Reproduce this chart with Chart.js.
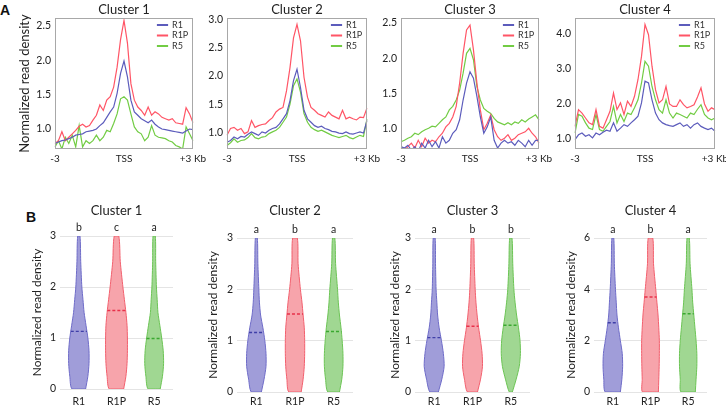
<!DOCTYPE html>
<html>
<head>
<meta charset="utf-8">
<script src="https://cdn.jsdelivr.net/npm/chart.js@4.4.1/dist/chart.umd.min.js"></script>
<style>
  body { margin: 0; background: #fff; }
  #wrap { position: relative; width: 726px; height: 407px; overflow: hidden; background: #fff; }
  #wrap canvas { position: absolute; }
  .tag { position: absolute; font: bold 14px Arial, sans-serif; line-height: 1; color: #111; }
</style>
</head>
<body>
<div id="wrap">
  <div class="tag" style="left:0px;top:3px">A</div>
  <div class="tag" style="left:26px;top:210px">B</div>
  <canvas id="a1" width="209" height="170" style="left:0px;top:0px"></canvas>
  <canvas id="a2" width="183" height="170" style="left:200px;top:0px"></canvas>
  <canvas id="a3" width="181" height="170" style="left:374px;top:0px"></canvas>
  <canvas id="a4" width="178" height="170" style="left:548px;top:0px"></canvas>
  <canvas id="b1" width="157" height="207" style="left:20px;top:200px"></canvas>
  <canvas id="b2" width="161" height="207" style="left:196px;top:200px"></canvas>
  <canvas id="b3" width="156" height="207" style="left:378px;top:200px"></canvas>
  <canvas id="b4" width="157" height="207" style="left:554px;top:200px"></canvas>
</div>
<script>
// ---- shared ----
const seriesNames = ['R1', 'R1P', 'R5'];
const bins = Array.from({ length: 41 }, (_, i) => i);   // -3 kb .. +3 kb, TSS at 20
const xTickLabels = { 0: '-3', 20: 'TSS', 40: '+3 Kb' };

// ---- A: read density profiles ----
const c1R1  = [0.79,0.81,0.83,0.84,0.86,0.88,0.91,0.92,0.93,0.96, 0.97,0.98,1.0,1.05,1.09,1.17,1.25,1.32,1.52,1.81, 1.99, 1.76,1.42,1.25,1.2,1.15,1.12,1.09,1.13,1.07,1.03, 1.0,0.99,0.98,0.97,0.96,0.95,0.94,0.97,1.0,0.99];
const c1R1P = [0.79,0.83,0.96,0.83,0.88,0.93,0.98,1.04,1.07,1.03, 1.05,1.13,1.2,1.35,1.27,1.42,1.47,1.61,1.9,2.3, 2.58, 2.25,1.66,1.42,1.32,1.27,1.2,1.32,1.2,1.25,1.22, 1.17,1.15,1.13,1.15,1.09,1.08,1.07,1.31,1.22,1.09];
const c1R5  = [0.74,0.83,0.71,0.88,0.79,0.91,0.74,1.05,0.74,0.83, 0.79,0.83,0.91,0.83,0.88,0.98,0.96,1.08,1.22,1.44, 1.47, 1.42,1.22,1.03,0.96,0.93,0.83,0.88,1.05,0.91,0.88, 0.87,0.86,0.83,0.81,0.76,0.74,0.71,1.03,0.93,0.83];

const c2R1  = [0.84,0.87,0.93,0.9,0.94,0.93,0.98,1.02,0.99,0.96, 1.02,1.0,1.05,1.08,1.1,1.16,1.25,1.34,1.57,1.92, 2.12, 1.8,1.4,1.25,1.19,1.13,1.1,1.12,1.08,1.06,1.03, 1.02,1.0,0.99,1.02,0.99,0.98,1.0,1.02,1.0,1.22];
const c2R1P = [0.96,1.08,1.1,1.05,1.08,0.99,1.02,1.22,1.1,1.13, 1.15,1.16,1.22,1.27,1.37,1.42,1.45,1.74,2.15,2.67, 2.91, 2.62,1.98,1.63,1.45,1.4,1.34,1.31,1.28,1.37,1.31, 1.28,1.25,1.4,1.25,1.28,1.25,1.23,1.28,1.27,1.44];
const c2R5  = [0.78,0.83,0.9,0.84,0.87,0.88,0.92,0.99,0.92,0.9, 0.93,0.94,0.99,1.02,1.05,1.1,1.19,1.28,1.51,1.83, 1.95, 1.72,1.34,1.19,1.1,1.06,1.03,1.05,1.02,0.99,0.96, 0.94,0.92,0.94,0.96,0.92,0.9,0.93,0.96,0.94,1.25];

const c3R1  = [0.75,0.73,0.77,0.7,0.75,0.68,0.8,0.73,0.84,0.75, 0.82,0.73,0.89,0.8,0.84,0.94,0.99,1.13,1.41,1.65, 1.81, 1.72,1.46,1.17,0.94,1.03,1.17,0.84,0.73,0.8, 0.84,0.8,0.82,0.77,0.84,0.8,0.75,0.84,0.77,0.84,0.84];
const c3R1P = [0.73,0.7,0.75,0.8,0.73,0.84,0.75,0.87,0.8,0.84, 0.82,0.89,0.94,1.03,1.08,1.17,1.32,1.65,2.07,2.4, 2.47, 2.12,1.65,1.27,0.99,1.08,1.2,0.99,0.89,0.84, 0.87,0.92,0.84,0.87,0.92,0.94,0.96,1.01,0.94,0.89,0.8];
const c3R5  = [0.82,0.84,0.87,0.89,0.94,0.92,0.96,0.99,1.01,1.04, 1.03,1.08,1.13,1.17,1.27,1.32,1.41,1.55,1.79,2.07, 2.14, 1.98,1.6,1.41,1.29,1.25,1.22,1.15,1.1,1.08, 1.06,1.09,1.06,1.1,1.08,1.13,1.1,1.14,1.17,1.2,1.13];

const c4R1  = [0.98,1.12,1.17,1.08,1.12,1.03,1.17,1.12,1.19,1.25, 1.22,1.46,1.22,1.31,1.41,1.36,1.46,1.55,1.65,2.03, 2.65, 2.6,2.12,1.74,1.55,1.46,1.41,1.38,1.36,1.41, 1.46,1.36,1.41,1.31,1.41,1.46,1.36,1.31,1.27,1.31,1.22];
const c4R1P = [1.36,1.84,1.74,1.6,1.46,1.41,1.84,1.36,1.31,1.55, 1.79,2.31,1.84,2.03,1.7,2.08,1.93,2.22,2.7,3.36, 4.27, 3.98,3.08,2.41,2.03,2.12,2.5,2.0,1.93,1.93, 2.12,1.98,1.89,1.93,1.98,2.2,2.46,2.0,1.79,1.89,1.84];
const c4R5  = [1.17,1.7,1.65,1.46,1.31,1.27,1.7,1.27,1.22,1.36, 1.5,1.93,1.46,1.7,1.5,1.74,1.7,1.89,2.12,2.6, 3.22, 3.08,2.5,2.12,1.84,1.74,2.12,1.74,1.6,1.74, 1.7,1.65,1.6,1.74,1.7,1.85,1.98,1.7,1.6,1.55,1.6];

const yTicksA1 = [1.0, 1.5, 2.0, 2.5];
const yTicksA2 = [1.0, 1.5, 2.0, 2.5, 3.0];
const yTicksA3 = [1.0, 1.5, 2.0, 2.5];
const yTicksA4 = [1.0, 2.0, 3.0, 4.0];

// ---- B: violins (half-width in category units at each level) ----
const levels3 = [0, 0.25, 0.5, 0.75, 1, 1.25, 1.5, 1.75, 2, 2.5, 3];
const levels6 = [0, 0.5, 1, 1.5, 2, 2.5, 3, 3.5, 4, 5, 6];

const v1R1  = [0.18,0.24,0.27,0.27,0.24,0.19,0.14,0.11,0.08,0.05,0.03];
const v1R1P = [0.19,0.25,0.28,0.29,0.29,0.28,0.25,0.21,0.17,0.10,0.06];
const v1R5  = [0.16,0.22,0.25,0.24,0.20,0.15,0.10,0.08,0.06,0.04,0.03];
const v2R1  = [0.13,0.20,0.25,0.25,0.22,0.17,0.11,0.08,0.065,0.04,0.025];
const v2R1P = [0.16,0.21,0.24,0.25,0.25,0.24,0.21,0.18,0.14,0.08,0.06];
const v2R5  = [0.15,0.21,0.24,0.24,0.22,0.19,0.15,0.12,0.10,0.05,0.03];
const v3R1  = [0.11,0.20,0.26,0.24,0.19,0.13,0.09,0.07,0.05,0.035,0.025];
const v3R1P = [0.13,0.21,0.26,0.25,0.21,0.16,0.12,0.09,0.07,0.045,0.03];
const v3R5  = [0.04,0.14,0.22,0.25,0.24,0.20,0.15,0.11,0.08,0.05,0.03];
const v4R1  = [0.20,0.24,0.26,0.25,0.20,0.15,0.11,0.09,0.07,0.04,0.025];
const v4R1P = [0.21,0.22,0.23,0.235,0.235,0.22,0.20,0.17,0.14,0.08,0.06];
const v4R5  = [0.19,0.21,0.23,0.23,0.21,0.18,0.15,0.12,0.10,0.05,0.03];

const med1 = [1.13, 1.54, 0.99];
const med2 = [1.16, 1.52, 1.18];
const med3 = [1.06, 1.28, 1.30];
const med4 = [2.70, 3.70, 3.05];

const letters1 = ['b', 'c', 'a'];
const letters2 = ['a', 'b', 'a'];
const letters3 = ['a', 'b', 'b'];
const letters4 = ['a', 'b', 'a'];

const yTicksB3 = [0, 1, 2, 3];
const yTicksB6 = [0, 2, 4, 6];

// ---- colours ----
const lineColors   = ['#5c5cbc', '#ff5566', '#72cc44'];
const violinFill   = ['#a09dd9', '#f7a4ab', '#a0d792'];
const violinEdge   = ['#6f6cc8', '#f2606e', '#6cc455'];
const medianColors = ['#3f3fa8', '#e8304a', '#3aa830'];

const FONT = 'Lato, "Open Sans", sans-serif';

// plot frame for the profile panels
const framePlugin = {
    id: 'frame',
    afterDraw(chart) {
        const { ctx, chartArea: a } = chart;
        ctx.save();
        ctx.strokeStyle = '#a8a8a8';
        ctx.lineWidth = 1;
        ctx.strokeRect(a.left + 0.5, a.top + 0.5, a.right - a.left - 1, a.bottom - a.top - 1);
        ctx.restore();
    }
};

// push the chartArea legend to the top right corner
const legendCorner = {
    id: 'legendCorner',
    afterLayout(chart) {
        const lg = chart.legend;
        if (!lg) return;
        const a = chart.chartArea;
        const w = lg.width, h = lg.height;
        lg.left = a.right - 37;
        lg.right = lg.left + w;
        lg.top = a.top + 1;
        lg.bottom = lg.top + h;
    }
};

function profileChart(id, title, series, yMin, yMax, yTicks, yAxisW, padRight, showYTitle) {
    new Chart(document.getElementById(id), {
        type: 'line',
        data: {
            labels: bins,
            datasets: seriesNames.map((name, k) => ({
                label: name,
                data: series[k],
                borderColor: lineColors[k],
                backgroundColor: lineColors[k],
                borderWidth: 1.2,
                pointRadius: 0,
                tension: 0,
                fill: false
            }))
        },
        options: {
            responsive: false,
            animation: false,
            events: [],
            layout: { padding: { left: 0, right: padRight, top: 0, bottom: 0 } },
            plugins: {
                title: {
                    display: true, text: title, fullSize: false, color: '#222',
                    font: { family: FONT, size: 13, weight: 'normal' },
                    padding: { top: 2, bottom: 0.4 }
                },
                legend: {
                    position: 'chartArea', align: 'start',
                    labels: { boxWidth: 10, boxHeight: 1, padding: 1.5, color: '#333', font: { family: FONT, size: 9 } }
                },
                tooltip: { enabled: false }
            },
            scales: {
                x: {
                    grid: { display: false, drawTicks: false },
                    border: { display: false },
                    ticks: {
                        autoSkip: false, maxRotation: 0, padding: 4, color: '#222',
                        font: { family: FONT, size: 10 },
                        callback: (v, i) => xTickLabels[i] ?? ''
                    },
                    afterFit: s => { s.height = 21; s.paddingLeft = 0; s.paddingRight = 0; }
                },
                y: {
                    min: yMin, max: yMax,
                    grid: { display: false, drawTicks: false },
                    border: { display: false },
                    afterBuildTicks: s => { s.ticks = yTicks.map(v => ({ value: v })); },
                    ticks: { padding: 4, color: '#222', font: { family: FONT, size: 10.5 }, callback: v => v.toFixed(1) },
                    title: {
                        display: showYTitle, text: 'Normalized read density', color: '#222',
                        font: { family: FONT, size: 13 }, padding: { top: 17, bottom: 0 }
                    },
                    afterFit: s => { s.width = yAxisW; s.paddingTop = 0; s.paddingBottom = 0; }
                }
            }
        },
        plugins: [framePlugin, legendCorner]
    });
}

function halfWidthAt(levels, w, y) {
    for (let j = 1; j < levels.length; j++) {
        if (y <= levels[j]) {
            const t = (y - levels[j - 1]) / (levels[j] - levels[j - 1]);
            return w[j - 1] + t * (w[j] - w[j - 1]);
        }
    }
    return w[w.length - 1];
}

function violinChart(id, title, levels, widths, medians, letters, yMax, yTicks, yAxisW, topH, bottomH, xPad) {
    const datasets = [];
    seriesNames.forEach((name, k) => {
        const w = widths[k];
        const right = levels.map((y, j) => ({ x: k + w[j], y }));
        const left = levels.map((y, j) => ({ x: k - w[j], y })).reverse();
        const outline = right.concat(left, [right[0]]);
        datasets.push({
            label: name, data: outline, order: 2,
            borderColor: violinEdge[k], backgroundColor: violinFill[k],
            borderWidth: 1, pointRadius: 0, tension: 0.25, fill: 'shape'
        });
        // dashed median line, drawn over the violins
        const mw = halfWidthAt(levels, w, medians[k]);
        datasets.push({
            label: name + ' median', order: 1,
            data: [{ x: k - mw, y: medians[k] }, { x: k + mw, y: medians[k] }],
            borderColor: medianColors[k], borderWidth: 1.4, borderDash: [3, 2],
            pointRadius: 0, fill: false
        });
    });

    new Chart(document.getElementById(id), {
        type: 'line',
        data: { datasets },
        options: {
            responsive: false,
            animation: false,
            events: [],
            layout: { padding: { left: 0, right: 4, top: 0, bottom: 0 } },
            plugins: {
                title: {
                    display: true, text: title, fullSize: false, color: '#222',
                    font: { family: FONT, size: 13, weight: 'normal' },
                    padding: { top: 3, bottom: 4 }
                },
                legend: { display: false },
                tooltip: { enabled: false }
            },
            scales: {
                x: {
                    type: 'linear', min: -0.5, max: 2.5,
                    grid: { display: false, drawTicks: false },
                    border: { display: false },
                    afterBuildTicks: s => { s.ticks = seriesNames.map((_, k) => ({ value: k })); },
                    ticks: { padding: xPad, color: '#222', font: { family: FONT, size: 10.5 }, callback: v => seriesNames[v] },
                    afterFit: s => { s.height = bottomH; s.paddingLeft = 0; s.paddingRight = 0; }
                },
                x2: {
                    type: 'linear', position: 'top', min: -0.5, max: 2.5,
                    grid: { display: false, drawTicks: false },
                    border: { display: false },
                    afterBuildTicks: s => { s.ticks = letters.map((_, k) => ({ value: k })); },
                    ticks: { padding: 2, color: '#222', font: { family: FONT, size: 10.5 }, callback: v => letters[v] },
                    afterFit: s => { s.height = topH; s.paddingLeft = 0; s.paddingRight = 0; }
                },
                y: {
                    min: 0, max: yMax,
                    grid: { color: '#e4e4e4', drawTicks: false },
                    border: { display: false },
                    afterBuildTicks: s => { s.ticks = yTicks.map(v => ({ value: v })); },
                    ticks: { padding: 4, color: '#222', font: { family: FONT, size: 10.5 }, callback: v => String(v) },
                    title: {
                        display: true, text: 'Normalized read density', color: '#222',
                        font: { family: FONT, size: 12 }, padding: { top: 10, bottom: 0 }
                    },
                    afterFit: s => { s.width = yAxisW; s.paddingTop = 0; s.paddingBottom = 0; }
                }
            }
        }
    });
}

function drawAll() {
    profileChart('a1', 'Cluster 1', [c1R1, c1R1P, c1R5], 0.709, 2.616, yTicksA1, 55, 16, true);
    profileChart('a2', 'Cluster 2', [c2R1, c2R1P, c2R5], 0.72, 3.02, yTicksA2, 27, 16, false);
    profileChart('a3', 'Cluster 3', [c3R1, c3R1P, c3R5], 0.717, 2.57, yTicksA3, 27, 16, false);
    profileChart('a4', 'Cluster 4', [c4R1, c4R1P, c4R5], 0.714, 4.457, yTicksA4, 27, 11, false);

    violinChart('b1', 'Cluster 1', levels3, [v1R1, v1R1P, v1R5], med1, letters1, 3, yTicksB3, 40, 13.4, 18, 6.5);
    violinChart('b2', 'Cluster 2', levels3, [v2R1, v2R1P, v2R5], med2, letters2, 3, yTicksB3, 41, 15.4, 15, 3.5);
    violinChart('b3', 'Cluster 3', levels3, [v3R1, v3R1P, v3R5], med3, letters3, 3, yTicksB3, 37, 15.4, 15, 3.5);
    violinChart('b4', 'Cluster 4', levels6, [v4R1, v4R1P, v4R5], med4, letters4, 6, yTicksB6, 40, 15.4, 15, 3.5);
}

Chart.defaults.font.family = FONT;
document.fonts.load('13px Lato').then(drawAll, drawAll);
</script>
</body>
</html>
